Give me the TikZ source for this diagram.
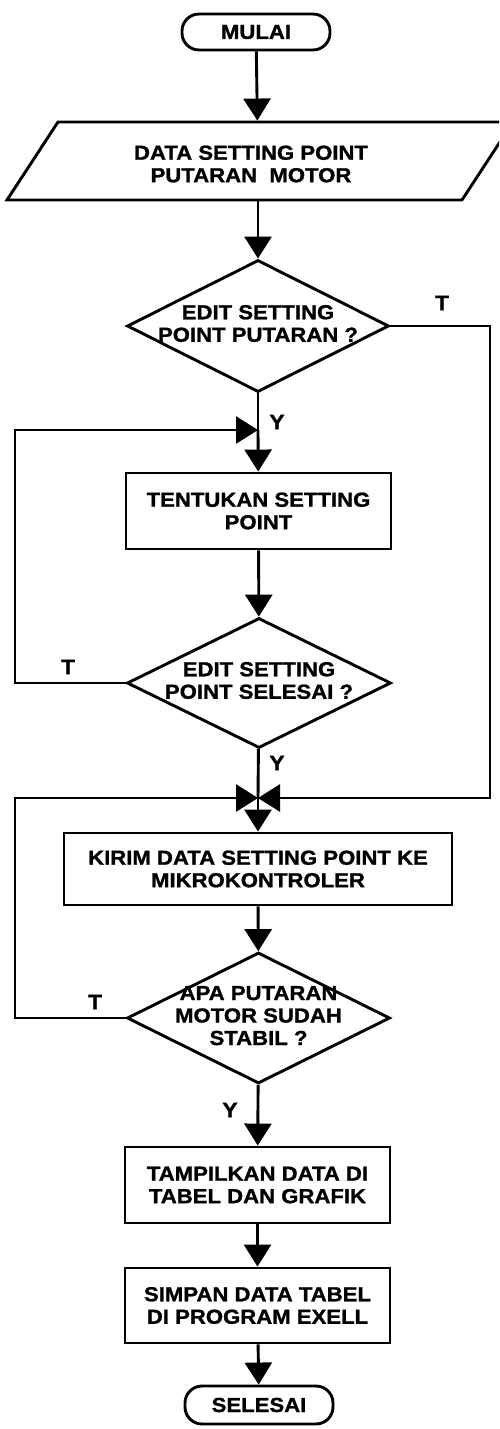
\documentclass[tikz,border=0pt]{standalone}
\usepackage{fontspec}
\newfontfamily\flowfont{Liberation Sans}[FakeStretch=1.09, BoldFeatures={FakeBold=1.2}]
\usetikzlibrary{arrows.meta,shapes.geometric}
\newcommand\dtext[1]{\makebox[0pt]{\begin{tabular}{@{}c@{}}#1\end{tabular}}}
\begin{document}
\begin{tikzpicture}[x=1pt,y=-1pt,
  line width=2.9pt,
  every node/.style={font=\flowfont\bfseries\fontsize{20.3}{22.5}\selectfont, inner sep=0pt},
  arr/.style={-{Triangle[length=22pt,width=27pt]}},
  proc/.style={draw, rectangle, minimum width=265pt, minimum height=76pt, align=center},
  term/.style={draw, rounded corners=17pt, minimum width=148pt, minimum height=36pt},
  dec/.style={draw, diamond, minimum width=262pt, minimum height=132pt},
  lbl/.style={font=\flowfont\bfseries\fontsize{21}{24}\selectfont}
]
\useasboundingbox (0,0) rectangle (499,1429);
\coordinate (left) at (15,0);
\coordinate (right) at (490,0);
\coordinate (j1) at (258,430);
\coordinate (j2) at (258,798);

\node[term] (mulai) at (256,32) {MULAI};
\begin{scope}
  \clip (0,0) rectangle (499,1429);
  \draw (58,122) -- (513,122) -- (462,200) -- (7,200) -- cycle;
\end{scope}
\node[minimum width=455pt, minimum height=78pt] (data) at (258,161) {};
\node[align=center] (datatxt) at (251,164) {DATA SETTING POINT\\PUTARAN\ \ MOTOR};

\node[dec] (d1) at (258,326) {\dtext{EDIT SETTING\\POINT PUTARAN ?}};
\node[proc] (tentukan) at (258.5,511) {TENTUKAN SETTING\\POINT};
\node[dec, minimum width=264pt, minimum height=130pt] (d2) at (259,683) {\dtext{EDIT SETTING\\POINT SELESAI ?}};
\node[proc, minimum width=388pt, minimum height=72pt] (kirim) at (258,869) {KIRIM DATA SETTING POINT KE\\MIKROKONTROLER};
\node[dec, minimum width=263pt, minimum height=131pt] (d3) at (258.5,1018) {\dtext{APA PUTARAN\\MOTOR SUDAH\\STABIL ?}};
\node[proc] (tampil) at (257.5,1185) {TAMPILKAN DATA DI\\TABEL DAN GRAFIK};
\node[proc, minimum height=75pt] (simpan) at (257.5,1305.5) {SIMPAN DATA TABEL\\DI PROGRAM EXELL};
\node[term, minimum height=38pt] (selesai) at (259,1405) {SELESAI};

\draw[arr] (mulai) -- (data);
\draw[arr] (data) -- (d1);
\draw (d1) -- (j1);
\draw[arr] (j1) -- (tentukan);
\draw[arr] (tentukan) -- (d2);
\draw (d2) -- (j2);
\draw[arr] (j2) -- (kirim);
\draw[arr] (kirim) -- (d3);
\draw[arr] (d3) -- (tampil);
\draw[arr] (tampil) -- (simpan);
\draw[arr] (simpan) -- (selesai);
\draw[arr] (d2.west) -- (d2.west -| left) |- (j1);
\draw[arr] (d1.east) -- (d1.east -| right) |- (j2);
\draw[arr] (d3.west) -- (d3.west -| left) |- (j2);

\node[lbl] (t1) at (442,303) {T};
\node[lbl] (y1) at (277,422) {Y};
\node[lbl] (t2) at (68,667) {T};
\node[lbl] (y2) at (277,763) {Y};
\node[lbl] (t3) at (95,1002) {T};
\node[lbl] (y3) at (230,1110) {Y};
\end{tikzpicture}
\end{document}
